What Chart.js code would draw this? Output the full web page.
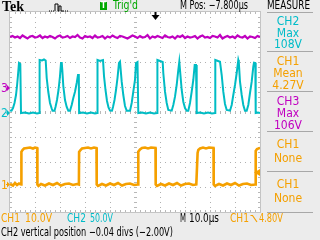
<!DOCTYPE html>
<html>
<head>
<meta charset="utf-8">
<script src="https://cdn.jsdelivr.net/npm/chart.js@4.4.1/dist/chart.umd.min.js"></script>
<style>
    html, body { margin: 0; padding: 0; }
    body {
        width: 320px; height: 240px; overflow: hidden; position: relative;
        background: #ececec;
        font-family: "Liberation Sans Narrow", "DejaVu Sans Condensed", "Liberation Sans", sans-serif;
        font-size: 12px; line-height: 12px;
    }
    #scope { position: absolute; left: 0; top: 0; }
    .t { position: absolute; white-space: nowrap; color: #000; transform-origin: 0 0; }
    .ch1 { color: #f5a000; }
    .ch2 { color: #00bcc8; }
    .ch3 { color: #c000c0; }
    .m { position: absolute; left: 262px; width: 52px; text-align: center; }
    .sep { position: absolute; left: 267px; width: 46px; height: 1px; background: #a8a8a8; }
    #tek { font-family: "Liberation Serif", serif; font-weight: bold; font-size: 14px; line-height: 14px; left: 2px; top: 0; }
    #tbox { position: absolute; left: 100px; top: 2px; width: 7px; height: 8px; background: #00a800;
            color: #fff; font-size: 8px; line-height: 8px; text-align: center; font-weight: bold; }
</style>
</head>
<body>
<canvas id="scope" width="320" height="240"></canvas>

<!-- top bar -->
<div class="t" id="tek">Tek</div>
<svg class="t" style="left:48px;top:3px" width="22" height="9">
    <path d="M1,8 H7 M15,8 H21" stroke="#000" stroke-width="1" stroke-dasharray="1,1" fill="none"/>
    <path d="M7,8 V1 H10 V8 H11 V3 H13 V8 H15" stroke="#000" stroke-width="1" fill="none"/>
</svg>
<div id="tbox">T</div>
<div class="t" data-w="25" style="left:113px;top:-1px;color:#00a800">Trig'd</div>
<div class="t" data-w="68" style="left:180px;top:-1px">M Pos: −7.800µs</div>
<div class="t" data-w="43" style="left:267px;top:-1px">MEASURE</div>

<!-- measure panel -->
<div class="sep" style="top:12px"></div>
<div class="m ch2" style="top:14.8px">CH2</div>
<div class="m ch2" style="top:26.5px">Max</div>
<div class="m ch2" style="top:37.8px">108V</div>
<div class="sep" style="top:51px"></div>
<div class="m ch1" style="top:54.8px">CH1</div>
<div class="m ch1" style="top:66.8px">Mean</div>
<div class="m ch1" style="top:78.8px">4.27V</div>
<div class="sep" style="top:91px"></div>
<div class="m ch3" style="top:94.8px">CH3</div>
<div class="m ch3" style="top:106.8px">Max</div>
<div class="m ch3" style="top:118.8px">106V</div>
<div class="sep" style="top:131px"></div>
<div class="m ch1" style="top:137.8px">CH1</div>
<div class="m ch1" style="top:151.8px">None</div>
<div class="sep" style="top:171px"></div>
<div class="m ch1" style="top:177.8px">CH1</div>
<div class="m ch1" style="top:191.8px">None</div>
<div class="sep" style="top:212px"></div>

<!-- bottom status -->
<div class="t ch1" data-w="19" style="left:1px;top:211.5px">CH1</div>
<div class="t ch1" data-w="27" style="left:25px;top:211.5px">10.0V</div>
<div class="t ch2" data-w="19" style="left:67px;top:211.5px">CH2</div>
<div class="t ch2" data-w="23" style="left:90px;top:211.5px">50.0V</div>
<div class="t" data-w="6" style="left:180px;top:211.5px">M</div>
<div class="t" data-w="30" style="left:189px;top:211.5px">10.0µs</div>
<div class="t ch1" data-w="19" style="left:230px;top:211.5px">CH1</div>
<svg class="t" style="left:250px;top:214px" width="9" height="9">
    <path d="M0.5,1.5 H2.5 L7,8" stroke="#f5a000" stroke-width="1.2" fill="none"/>
</svg>
<div class="t ch1" data-w="24" style="left:259px;top:211.5px">4.80V</div>
<div class="t" data-w="172" style="left:1px;top:225.8px">CH2 vertical position −0.04 divs (−2.00V)</div>

<!-- ground markers, placed from the y scale -->
<div class="t ch3" id="gnd3">3</div>
<div class="t ch2" id="gnd2">2</div>
<div class="t ch1" id="gnd1">1</div>

<script>
// ---- Data (time in µs across the 10 div screen, values in volts) ----------
const TIME_DIVS = 10;
const US_PER_DIV = 10;
const M_POS_US = -7.8;

// channel settings: volts/div and ground position (divisions from bottom)
const ch1Scale = 10,  ch1Ground = 1.1;
const ch2Scale = 50,  ch2Ground = 3.96;
const ch3Scale = 50,  ch3Ground = 4.96;
const ch1TrigLevel = 4.8;

const ch1Time = [0, 1.2, 2.0, 2.8, 3.6, 4.48,
    4.56, 5.0, 5.6, 6.8, 8.0, 9.2, 10.0, 10.88,
    10.96, 11.4, 12.4, 14.0, 15.6, 17.2, 18.8, 20.4, 22.0, 23.6, 25.2, 26.8, 27.56,
    27.64, 28.2, 28.8, 30.0, 31.2, 32.4, 33.6, 34.6,
    34.68, 35.2, 36.8, 38.4, 40.0, 41.6, 43.2, 44.8, 46.4, 48.0, 49.6, 51.24,
    51.32, 52.0, 52.8, 54.0, 55.2, 56.4, 58.2,
    58.28, 58.8, 60.4, 62.0, 63.6, 65.2, 66.8, 68.4, 70.0, 71.6, 73.2, 74.52,
    75.04, 75.32, 76.0, 77.2, 78.4, 79.6, 81.4,
    81.48, 82.0, 83.6, 85.2, 86.8, 88.4, 90.0, 91.6, 93.2, 94.8, 96.4, 98.2,
    98.28, 98.8, 100];
const ch1Volts = [0.2, -0.4, 0.6, -0.2, 0.4, 0,
    13.1, 13.8, 14.4, 14.6, 14.8, 14.4, 14.8, 14.6,
    0, -0.6, 0.2, -0.4, 0.4, -0.2, 0.6, -0.4, 0.2, 0.4, -0.2, 0.2, 0,
    13, 13.8, 14.4, 14.6, 14.8, 14.4, 14.8, 14.6,
    0, -0.6, 0.2, -0.4, 0.4, -0.2, 0.6, -0.4, 0.2, 0.4, -0.2, 0,
    13.1, 14.0, 14.6, 14.8, 14.4, 14.8, 14.6,
    0, -0.6, 0.2, -0.4, 0.4, -0.2, 0.6, -0.4, 0.2, 0.4, -0.2, 0,
    12.6, 13.8, 14.4, 14.8, 14.4, 14.8, 14.6,
    0, -0.6, 0.2, -0.4, 0.4, -0.2, 0.6, -0.4, 0.2, 0.4, -0.2, 0,
    13.4, 14.2, 14.6];

const ch2Time = [0, 0.6, 1.2, 1.8, 2.4, 2.8, 3.2, 3.6, 4.12, 4.4,
    6.0, 7.6, 9.2, 10.8, 11.72,
    11.84, 12.8, 13.6, 14.28, 14.68, 15.32, 16.0, 16.68, 17.0, 17.8, 18.2, 18.8, 19.4, 20.0, 20.4,
    20.68, 20.92, 21.32, 22.0, 22.68, 23.32, 24.0, 24.68, 25.32, 26.0, 26.68, 27.2, 27.52, 27.64,
    29.2, 30.8, 32.4, 34.0, 34.88,
    35.0, 36.0, 37.2, 37.6, 38.2, 38.8, 39.4, 40.0, 40.8, 41.2, 41.8, 42.4, 43.0, 43.6, 44.0,
    44.68, 45.32, 46.0, 46.68, 48.0, 48.68, 49.32, 50.0, 50.4, 51.0, 51.32,
    52.8, 54.4, 56.0, 57.6, 58.84,
    58.96, 60.0, 61.08, 61.32, 62.0, 62.68, 63.32, 64.68, 65.32, 66.0, 66.68, 67.32, 67.72,
    68.0, 68.68, 69.32, 70.0, 70.68, 71.32, 72.0, 72.68, 73.32, 73.88, 74.4, 74.68,
    76.0, 77.6, 79.2, 80.8, 82.04,
    82.12, 83.2, 84.0, 84.68, 85.32, 86.0, 86.68, 88.0, 88.68, 89.32, 90.0, 90.68, 91.32, 91.52,
    92.0, 92.68, 93.32, 94.0, 94.68, 95.32, 96.0, 96.68, 97.32, 97.6, 98.12, 98.28, 99.2, 100];
const ch2Volts = [5, 4.6, 10, 20, 36, 54, 76, 100, 98, 0,
    1, -1, 1, -1, 0,
    106, 105, 107, 105, 70, 42, 20, 9, 4.6, 4.6, 12, 26, 46, 74, 100,
    102, 86, 54, 26, 12, 4.6, 4.6, 16, 30, 42.6, 60, 76, 78, 0,
    1, -1, 1, -1, 0,
    106, 104, 106, 74, 46, 24, 11, 5, 4.6, 12, 26, 46, 70, 100, 102.6,
    62.6, 36, 14, 4.6, 4.6, 20, 42.6, 66, 100, 102, 0,
    1, -1, 1, -1, 0,
    106, 104, 102, 80, 42.6, 20, 6, 4.6, 16, 32.6, 56, 86, 102.6,
    86, 46, 22.6, 10, 4.6, 4.6, 20, 42.6, 66, 96, 96, 0,
    1, -1, 1, -1, 0,
    106, 104, 102.6, 76, 42.6, 18, 6, 4.6, 16, 36, 56, 80, 106, 102,
    62.6, 36, 16, 4.6, 4.6, 16, 40, 62.6, 92.6, 100.6, 100, 0, 1, 0];

// CH3 sampled every 1 µs
const ch3StepUs = 1;
const ch3Volts = [102, 104, 101, 103, 100, 105, 102, 99, 103, 104,
    101, 102, 105, 100, 103, 101, 104, 102, 99, 103,
    105, 101, 102, 104, 100, 103, 102, 106, 101, 99,
    104, 102, 103, 100, 105, 101, 102, 104, 99, 103,
    101, 105, 102, 100, 104, 103, 101, 99, 102, 105,
    103, 100, 104, 101, 102, 106, 99, 103, 101, 104,
    102, 100, 105, 102, 101, 103, 99, 104, 102, 105,
    100, 103, 101, 102, 104, 99, 103, 105, 101, 102,
    100, 104, 103, 101, 106, 99, 102, 104, 101, 103,
    100, 105, 102, 101, 104, 99, 103, 102, 100, 104, 102];

const COLORS = { ch1: "#f5a000", ch2: "#00bcc4", ch3: "#c000c0" };

// volts -> screen divisions
const toDivs = (times, volts, scale, ground) =>
    volts.map((v, i) => ({ x: times[i], y: ground + v / scale }));
const ch3Time = ch3Volts.map((_, i) => i * ch3StepUs);

// ---- Screen graticule + markers ------------------------------------------
const graticule = {
    id: "graticule",
    beforeDatasetsDraw(chart) {
        const { ctx, chartArea: a } = chart;
        const w = a.right - a.left, h = a.bottom - a.top;
        const dx = w / TIME_DIVS, dy = h / 8;
        ctx.save();
        ctx.fillStyle = "#ffffff";
        ctx.fillRect(a.left, a.top, w, h);

        // frame
        ctx.strokeStyle = "#c4c4c4";
        ctx.lineWidth = 1;
        ctx.strokeRect(a.left - 0.5, a.top - 0.5, w + 1, h + 1);

        // dotted division lines
        ctx.fillStyle = "#b0b0b0";
        for (let i = 1; i < TIME_DIVS; i++) {
            if (i === TIME_DIVS / 2) continue;
            const x = Math.round(a.left + i * dx);
            for (let y = a.top + 5; y < a.bottom; y += 5) ctx.fillRect(x, y, 1, 1);
        }
        for (let j = 1; j < 8; j++) {
            if (j === 4) continue;
            const y = Math.round(a.top + j * dy);
            for (let x = a.left + 5; x < a.right; x += 5) ctx.fillRect(x, y, 1, 1);
        }

        // center cross with ticks, and edge ticks
        ctx.fillStyle = "#b8b8b8";
        const cx = Math.round(a.left + w / 2), cy = Math.round(a.top + h / 2);
        for (let y = a.top + 5; y < a.bottom; y += 5) {
            ctx.fillRect(cx - 1, y, 3, 1);
            ctx.fillRect(a.left, y, 2, 1);
            ctx.fillRect(a.right - 2, y, 2, 1);
        }
        for (let x = a.left + 5; x < a.right; x += 5) {
            ctx.fillRect(x, cy - 1, 1, 3);
            ctx.fillRect(x, a.top, 1, 2);
            ctx.fillRect(x, a.bottom - 2, 1, 2);
        }
        ctx.restore();
    },
    afterDatasetsDraw(chart) {
        const { ctx, chartArea: a, scales } = chart;
        ctx.save();
        // trigger position arrow
        const tx = Math.round(scales.x.getPixelForValue(TIME_DIVS * US_PER_DIV / 2 - M_POS_US)) + 0.5;
        ctx.fillStyle = "#000";
        ctx.fillRect(tx - 1, a.top, 2, 4);
        ctx.beginPath();
        ctx.moveTo(tx - 4, a.top + 3);
        ctx.lineTo(tx + 4, a.top + 3);
        ctx.lineTo(tx, a.top + 8);
        ctx.closePath();
        ctx.fill();

        // trigger level marker (CH1)
        const ty = scales.y.getPixelForValue(ch1Ground + ch1TrigLevel / ch1Scale);
        ctx.fillStyle = COLORS.ch1;
        ctx.beginPath();
        ctx.moveTo(a.right - 6, ty);
        ctx.lineTo(a.right, ty - 3.5);
        ctx.lineTo(a.right, ty + 3.5);
        ctx.closePath();
        ctx.fill();

        // ground arrows at the left edge
        [[ch1Ground, COLORS.ch1], [ch2Ground, COLORS.ch2], [ch3Ground, COLORS.ch3]].forEach(([g, c]) => {
            const gy = scales.y.getPixelForValue(g);
            ctx.fillStyle = c;
            ctx.fillRect(a.left - 4, gy - 0.5, 2, 1);
            ctx.beginPath();
            ctx.moveTo(a.left - 3, gy - 3);
            ctx.lineTo(a.left, gy);
            ctx.lineTo(a.left - 3, gy + 3);
            ctx.closePath();
            ctx.fill();
        });
        ctx.restore();
    },
};

const trace = (data, color, width) => ({
    data,
    borderColor: color,
    borderWidth: width,
    pointRadius: 0,
    tension: 0,
    fill: false,
});

const chart = new Chart(document.getElementById("scope"), {
    type: "line",
    data: {
        datasets: [
            trace(toDivs(ch1Time, ch1Volts, ch1Scale, ch1Ground), COLORS.ch1, 2.6),
            trace(toDivs(ch2Time, ch2Volts, ch2Scale, ch2Ground), COLORS.ch2, 2),
            trace(toDivs(ch3Time, ch3Volts, ch3Scale, ch3Ground), COLORS.ch3, 2.2),
        ],
    },
    options: {
        responsive: false,
        animation: false,
        events: [],
        layout: { padding: { left: 10, right: 60, top: 12, bottom: 28 } },
        plugins: { legend: { display: false }, tooltip: { enabled: false } },
        scales: {
            x: { type: "linear", min: 0, max: TIME_DIVS * US_PER_DIV, display: false },
            y: { type: "linear", min: 0, max: 8, display: false },
        },
    },
    plugins: [graticule],
});

// place ground digits next to their arrows
[["gnd1", ch1Ground], ["gnd2", ch2Ground], ["gnd3", ch3Ground]].forEach(([id, g]) => {
    const el = document.getElementById(id);
    el.style.left = "1px";
    el.style.top = (chart.scales.y.getPixelForValue(g) - 6) + "px";
});

// squeeze status texts to the widths they take on the scope screen
document.querySelectorAll("[data-w]").forEach((el) => {
    const w = el.getBoundingClientRect().width;
    const target = Number(el.dataset.w);
    if (w > 0) el.style.transform = `scaleX(${(target / w).toFixed(3)})`;
});
</script>
</body>
</html>
